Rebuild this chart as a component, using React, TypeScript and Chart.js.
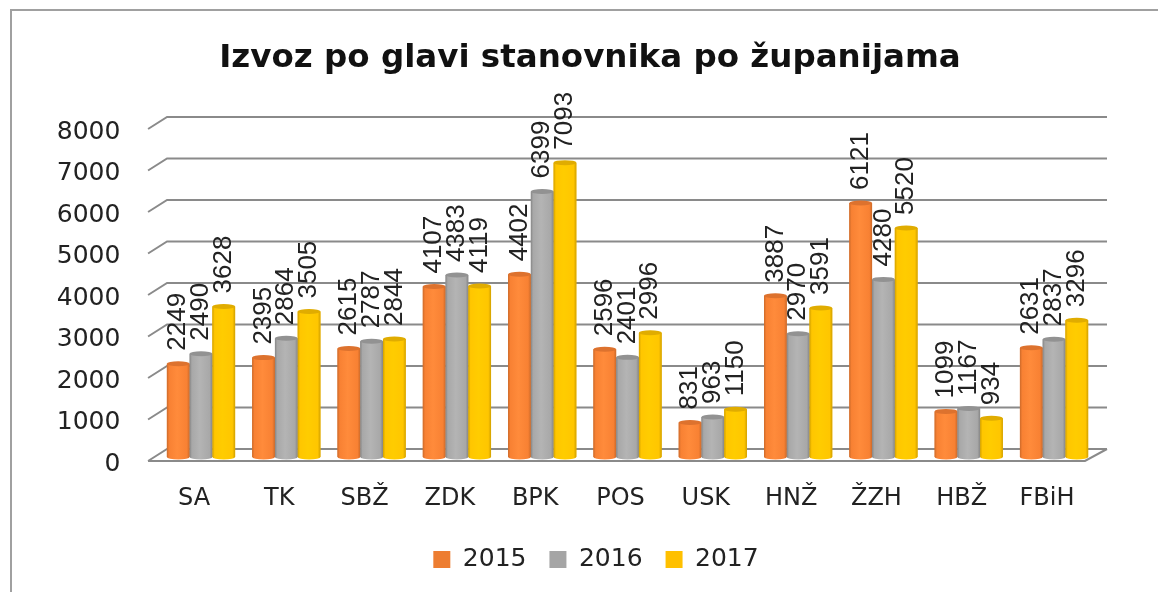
import React, { useEffect, useRef } from "react";
import { Chart, registerables } from "chart.js";

Chart.register(...registerables);

const titleText = "Izvoz po glavi stanovnika po županijama";
const categories = ["SA", "TK", "SBŽ", "ZDK", "BPK", "POS", "USK", "HNŽ", "ŽZH", "HBŽ", "FBiH"];
const values2015 = [2249, 2395, 2615, 4107, 4402, 2596, 831, 3887, 6121, 1099, 2631];
const values2016 = [2490, 2864, 2787, 4383, 6399, 2401, 963, 2970, 4280, 1167, 2837];
const values2017 = [3628, 3505, 2844, 4119, 7093, 2996, 1150, 3591, 5520, 934, 3296];
const seriesNames = ["2015", "2016", "2017"];
const seriesColors = ["#ED7D31", "#A5A5A5", "#FFC000"];
const seriesShades = [
  { edge: "#cc6a2a", mid: "#f88133", light: "#ff8b3b", cap: "#dd722e" },
  { edge: "#858585", mid: "#a8a8a8", light: "#b4b4b4", cap: "#929292" },
  { edge: "#d1a000", mid: "#ffc600", light: "#ffcc00", cap: "#e0ac00" },
];

const GRID = "#8a8a8a";
const TEXT = "#222222";

const cylinder3d = {
  id: "cylinder3d",
  afterLayout(chart: any) {
    chart.legend.left += 6;
    chart.legend.right += 6;
  },
  beforeDatasetsDraw(chart: any) {
    const { ctx, chartArea: a, scales } = chart;
    const y = scales.y;
    ctx.save();
    ctx.strokeStyle = GRID;
    ctx.lineWidth = 2;
    for (const t of y.ticks) {
      const py = y.getPixelForValue(t.value);
      ctx.beginPath();
      ctx.moveTo(a.left - 10.3, py + 4);
      ctx.lineTo(a.left + 8.7, py - 8);
      ctx.lineTo(a.right + 10.3, py - 8);
      ctx.stroke();
    }
    const p0 = y.getPixelForValue(0);
    ctx.beginPath();
    ctx.moveTo(a.left - 10.3, p0 + 4);
    ctx.lineTo(a.right - 11.7, p0 + 4);
    ctx.lineTo(a.right + 10.3, p0 - 8);
    ctx.stroke();
    ctx.restore();
  },
  afterDatasetsDraw(chart: any) {
    const { ctx } = chart;
    ctx.save();
    chart.data.datasets.forEach((ds: any, di: number) => {
      const shade = seriesShades[di];
      chart.getDatasetMeta(di).data.forEach((el: any) => {
        const w = el.width;
        const l = el.x - w / 2;
        const r = el.x + w / 2;
        const g = ctx.createLinearGradient(l, 0, r, 0);
        g.addColorStop(0, shade.edge);
        g.addColorStop(0.1, shade.mid);
        g.addColorStop(0.45, shade.light);
        g.addColorStop(0.88, shade.mid);
        g.addColorStop(1, shade.edge);
        ctx.fillStyle = g;
        ctx.beginPath();
        ctx.moveTo(l, el.y);
        ctx.lineTo(l, el.base);
        ctx.ellipse(el.x, el.base, w / 2, 2.5, 0, Math.PI, 0, true);
        ctx.lineTo(r, el.y);
        ctx.closePath();
        ctx.fill();
        ctx.fillStyle = shade.cap;
        ctx.beginPath();
        ctx.ellipse(el.x, el.y, w / 2, 2.5, 0, 0, Math.PI * 2);
        ctx.fill();
      });
    });
    chart.data.datasets.forEach((ds: any, di: number) => {
      chart.getDatasetMeta(di).data.forEach((el: any, i: number) => {
        ctx.save();
        ctx.translate(el.x, el.y - 13);
        ctx.rotate(-Math.PI / 2);
        ctx.font = "26px 'Liberation Sans'";
        ctx.fillStyle = TEXT;
        ctx.textAlign = "left";
        ctx.textBaseline = "middle";
        ctx.fillText(String(ds.data[i]), 0, 0);
        ctx.restore();
      });
    });
    ctx.restore();
  },
};

export default function App() {
  const ref = useRef<HTMLCanvasElement>(null);
  useEffect(() => {
    const chart = new Chart(ref.current as HTMLCanvasElement, {
      type: "bar",
      data: {
        labels: categories,
        datasets: [values2015, values2016, values2017].map((data, i) => ({
          label: seriesNames[i],
          data,
          backgroundColor: seriesColors[i],
          borderWidth: 0,
          categoryPercentage: 0.8,
          barPercentage: 1,
          yAxisID: "y",
        })),
      },
      options: {
        animation: false,
        responsive: false,
        layout: { padding: { left: 22, right: 0, top: 0, bottom: 10 } },
        plugins: {
          title: {
            display: true,
            text: titleText,
            color: "#111111",
            font: { family: "'DejaVu Sans'", size: 32.5, weight: "bold" },
            padding: { top: 38.6, bottom: 47.4 },
          },
          legend: {
            position: "bottom",
            labels: {
              boxWidth: 17,
              boxHeight: 17,
              padding: 23,
              color: TEXT,
              font: { family: "'DejaVu Sans'", size: 25 },
            },
          },
          tooltip: { enabled: false },
        },
        scales: {
          x: {
            grid: { display: false },
            border: { display: false },
            ticks: {
              color: TEXT,
              font: { family: "'DejaVu Sans'", size: 24 },
              padding: 19,
              labelOffset: -7,
              maxRotation: 0,
              autoSkip: false,
            },
            afterFit: (s: any) => { s.height = 67; },
          },
          y: {
            min: 0,
            max: 8000,
            grid: { display: false, drawTicks: false },
            border: { display: false },
            ticks: {
              stepSize: 1000,
              color: TEXT,
              font: { family: "'DejaVu Sans'", size: 25 },
              padding: 38,
              labelOffset: 7,
              callback: (v: any) => String(v),
            },
            afterFit: (s: any) => { s.width = 136.35; },
          },
          yr: {
            position: "right",
            grid: { display: false },
            border: { display: false },
            ticks: { display: false },
            afterFit: (s: any) => { s.width = 61.3; },
          },
        },
      } as any,
      plugins: [cylinder3d],
    });
    return () => chart.destroy();
  }, []);
  return (
    <div style={{ position: "fixed", left: 0, top: 0, width: 1158, height: 592, background: "#fff", overflow: "hidden" }}>
      <div style={{ position: "absolute", left: 10, top: 9, width: 1200, height: 700, borderLeft: "2px solid #a0a0a0", borderTop: "2px solid #a0a0a0" }} />
      <canvas ref={ref} width={1158} height={592} style={{ position: "absolute", left: 0, top: 0, filter: "blur(0.5px)" }} />
    </div>
  );
}
